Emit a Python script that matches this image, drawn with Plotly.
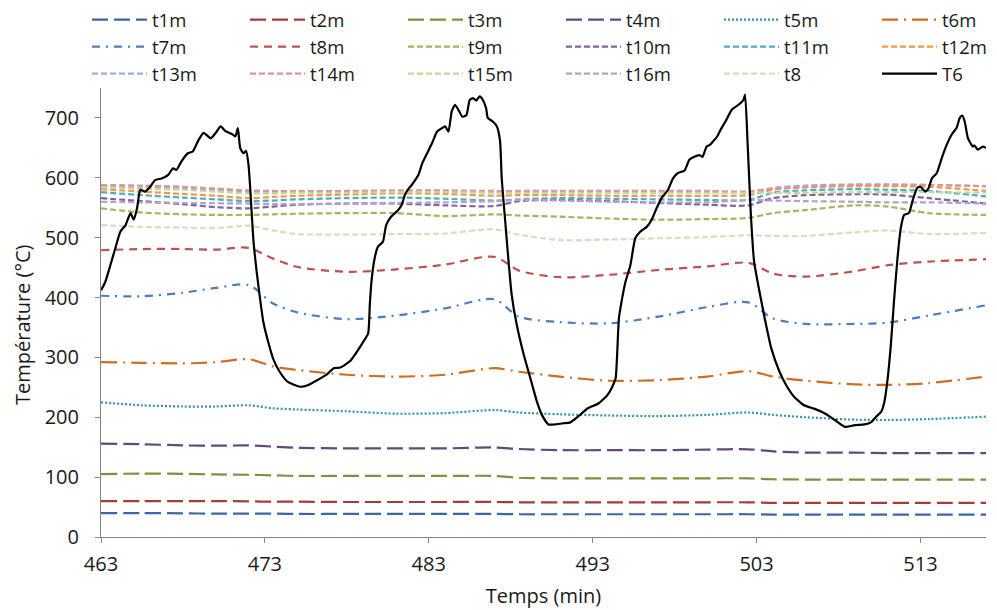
import plotly.graph_objects as go

# ---------------- data ----------------
time_grid = [463, 465.5, 468, 470, 472, 473.5, 475, 478, 481, 484, 487, 488.5, 491,
             494, 497, 500, 502.5, 504, 506, 509, 511, 513.5, 517]

t1m = [40, 40, 39.5, 39, 39, 39, 38.5, 38.5, 38.5, 38.5, 38.5, 38, 38, 38, 38, 38, 38, 37.5, 37.5, 37.5, 37.5, 37.5, 37.5]
t2m = [60, 60, 60, 60, 59.5, 59, 59, 58.5, 58.5, 58.5, 58.5, 58, 58, 58, 58, 58, 58, 57, 57, 57, 57, 57, 57]
t3m = [105, 106, 105.5, 104.5, 104, 103, 102, 102, 102, 102, 102, 99, 98, 98, 98, 98, 98, 96.5, 96, 96, 96, 96, 96]
t4m = [156, 155, 153, 152.5, 153, 151, 149, 148, 148, 148, 149.5, 147, 145, 145, 145, 146, 146.5, 143, 141, 141, 140, 140, 140]
t5m = [225, 220, 218, 218, 220, 215, 213, 210, 206, 207, 212, 208, 205, 203, 202, 204, 208, 204, 200, 196, 195.5, 197, 201]
t6m = [292, 291, 290, 292, 297, 285, 279, 271, 268, 271, 282, 276, 268, 261, 262, 268, 277, 268, 261, 255, 254, 257, 268]
t7m = [403, 402, 408, 416, 421, 390, 375, 364, 370, 382, 397, 368, 359, 357, 368, 384, 392, 365, 356, 356, 358, 370, 387]
t8m = [479, 481, 481, 480, 483, 465, 451, 443, 447, 455, 468, 445, 434, 438, 446, 452, 458, 440, 435, 444, 454, 460, 464]
t9m = [549, 542, 539, 538, 538, 539, 540, 541, 541, 536, 539, 537, 535, 532, 530, 531, 533, 541, 546, 554, 552, 541, 538]
t10m = [566, 561, 556, 551, 549, 552, 555, 557, 557, 554, 553, 561, 563, 561, 558, 555, 554, 566, 571, 572.5, 572, 566, 557]
t11m = [576, 571, 567, 564, 561, 562, 564, 566, 567, 565, 562, 564, 566, 565, 564, 563, 563, 575, 579, 581, 580, 578, 569]
t12m = [581, 577, 573, 570, 566, 568, 570, 572, 574, 573, 570, 571, 571, 570, 570, 570, 571, 580, 584, 586, 586, 585, 578]
t13m = [585, 584, 582, 580, 577, 577, 577, 577, 577, 577, 576, 576, 576, 576, 576, 576, 576, 583, 587, 589, 589, 588, 586]
t14m = [588, 587, 585, 582, 579, 578, 578, 578, 579, 579, 578, 578, 578, 578, 578, 578, 577, 582, 585, 588, 588, 588, 586]
t15m = [584, 582, 580, 577, 574, 574, 575, 575, 576, 576, 575, 575, 575, 575, 575, 575, 575, 575, 575, 576, 576, 576, 575]
t16m = [560, 559, 558, 557.5, 557, 556, 556, 557, 558, 559, 561, 563, 562, 560, 559, 559, 563, 562, 561, 560, 559, 559, 557]
t8 = [521, 518, 517, 516, 520, 512, 506, 505, 506, 507, 514, 505, 496, 497, 499, 501, 504, 503, 503, 509, 512, 506, 508]

T6_time = [463.0, 463.26, 463.57, 463.87, 464.18, 464.5, 464.8, 465.0, 465.2, 465.4, 465.7, 466.0, 466.3, 466.7,
           467.1, 467.4, 467.6, 467.9, 468.3, 468.6, 468.95, 469.26, 469.7, 470.0, 470.3, 470.6, 471.0, 471.2,
           471.35, 471.5, 471.7, 471.85, 472.0, 472.1, 472.3, 472.5, 472.7, 472.9, 473.2, 473.5, 473.9, 474.4,
           475.15, 475.66, 476.2, 476.8, 477.2, 477.6, 478.2, 478.6, 479.0, 479.3, 479.4, 479.5, 479.7, 479.9,
           480.2, 480.4, 480.7, 481.1, 481.35, 481.55, 481.75, 481.96, 482.37, 482.6, 482.9, 483.2, 483.5, 483.8,
           484.0, 484.2, 484.4, 484.6, 484.8, 485.05, 485.3, 485.5, 485.7, 485.9, 486.1, 486.3, 486.5, 486.6,
           486.9, 487.15, 487.35, 487.45, 487.65, 487.85, 488.06, 488.37, 488.8, 489.2, 489.6, 489.9, 490.3,
           490.7, 491.2, 491.6, 492.1, 492.7, 493.35, 493.9, 494.2, 494.4, 494.5, 494.6, 494.8, 495.0, 495.3,
           495.6, 495.9, 496.3, 496.6, 496.9, 497.2, 497.6, 497.9, 498.2, 498.6, 498.9, 499.2, 499.5, 499.7,
           499.95, 500.15, 500.35, 500.6, 500.8, 501.1, 501.5, 501.9, 502.2, 502.3, 502.45, 502.65, 502.85,
           503.1, 503.5, 503.9, 504.4, 504.8, 505.3, 505.9, 506.55, 507.2, 507.8, 508.4, 509.0, 509.6, 510.0,
           510.3, 510.6, 510.8, 511.0, 511.2, 511.4, 511.6, 511.8, 512.0, 512.3, 512.5, 512.8, 513.0, 513.3,
           513.5, 513.7, 514.0, 514.3, 514.6, 514.9, 515.2, 515.4, 515.55, 515.7, 515.9, 516.2, 516.3, 516.5,
           516.8, 517.0]
T6 = [412, 426, 454, 482, 510, 521, 541, 530, 549, 580, 577, 585, 596, 599,
      605, 616, 613, 627, 641, 644, 663, 675, 666, 675, 686, 678, 673, 669,
      683, 649, 641, 645, 622, 585, 495, 443, 399, 360, 326, 298, 276, 259,
      251, 254, 262, 272, 282, 283, 294, 309, 326, 340, 387, 426, 466, 485,
      493, 521, 535, 545, 555, 572, 581, 588, 605, 624, 641, 658, 677, 683,
      686, 677, 711, 722, 714, 702, 705, 730, 733, 729, 736, 730, 716, 700,
      694, 686, 661, 599, 532, 466, 404, 354, 304, 265, 226, 204, 188,
      188, 190, 191, 201, 215, 223, 237, 251, 265, 309, 365, 399, 426, 454,
      499, 510, 518, 530, 549, 566, 580, 599, 608, 612, 630, 635, 638, 635,
      652, 655, 661, 669, 680, 694, 714, 722, 730, 739, 660, 540, 460,
      421, 365, 315, 276, 254, 234, 220, 214, 206, 195, 184, 187, 188, 192,
      201, 209, 226, 265, 323, 399, 466, 516, 538, 541, 560, 583, 585, 577,
      583, 599, 608, 633, 655, 672, 683, 700, 704, 694, 666, 652, 654, 647,
      652, 650]

x_ticks = [463, 473, 483, 493, 503, 513]
y_ticks = [0, 100, 200, 300, 400, 500, 600, 700]

series = [
    ("t1m", t1m, "#3a66a6", "16px,6px"),
    ("t2m", t2m, "#a63b38", "16px,6px"),
    ("t3m", t3m, "#77953d", "16px,6px"),
    ("t4m", t4m, "#5f4a7d", "16px,6px"),
    ("t5m", t5m, "#3592ab", "2px,2px"),
    ("t6m", t6m, "#d06d1f", "16px,6px,2px,6px"),
    ("t7m", t7m, "#4a7ebf", "8px,6px,2px,6px"),
    ("t8m", t8m, "#c0504d", "8px,6px"),
    ("t9m", t9m, "#9bbb59", "6px,3px"),
    ("t10m", t10m, "#8064a2", "6px,3px"),
    ("t11m", t11m, "#4bacc6", "6px,3px"),
    ("t12m", t12m, "#f79646", "6px,3px"),
    ("t13m", t13m, "#95b3d7", "6px,3px"),
    ("t14m", t14m, "#d99694", "6px,3px"),
    ("t15m", t15m, "#c3d69b", "6px,3px"),
    ("t16m", t16m, "#b3a2c7", "6px,3px"),
    ("t8", t8, "#d3e0bd", "6px,3px"),
]

FONT = "Open Sans"
TXT = "#1a1a1a"
AX = "#868686"

fig = go.Figure()
for name, vals, col, dash in series:
    fig.add_trace(go.Scatter(
        x=time_grid, y=vals, name=name, mode="lines",
        line=dict(color=col, width=2.2, dash=dash, shape="spline", smoothing=0.8),
    ))
fig.add_trace(go.Scatter(
    x=T6_time, y=T6, name="T6", mode="lines",
    line=dict(color="black", width=2.2, shape="spline", smoothing=0.5),
))

L, R, T, B = 101, 11, 88, 73
W, H = 997, 610
pw = W - L - R
ph = H - T - B

fig.update_layout(
    width=W, height=H,
    margin=dict(l=L, r=R, t=T, b=B, autoexpand=False),
    paper_bgcolor="white", plot_bgcolor="white",
    font=dict(family=FONT, size=20, color=TXT),
    showlegend=True,
    legend=dict(
        orientation="h",
        x=(87 - L) / pw, xanchor="left",
        y=(H - B - 1) / ph, yanchor="top",
        entrywidth=88, entrywidthmode="pixels",
        itemwidth=55,
        font=dict(family=FONT, size=18.5, color=TXT),
        bgcolor="rgba(0,0,0,0)",
        traceorder="normal",
    ),
    xaxis=dict(
        range=[463, 517], tickmode="array", tickvals=x_ticks,
        ticktext=[str(v) for v in x_ticks],
        showgrid=False, zeroline=False,
        showline=True, linecolor=AX, linewidth=1,
        ticks="outside", ticklen=5, tickcolor=AX,
        tickfont=dict(family=FONT, size=20, color=TXT),
        ticklabelstandoff=4,
        title=dict(text="Temps (min)", font=dict(family=FONT, size=20, color=TXT), standoff=12),
    ),
    yaxis=dict(
        range=[0, 750], tickmode="array", tickvals=y_ticks,
        showgrid=False, zeroline=False,
        showline=True, linecolor=AX, linewidth=1,
        ticks="outside", ticklen=5, tickcolor=AX,
        tickfont=dict(family=FONT, size=20, color=TXT),
        ticklabelstandoff=12,
    ),
    annotations=[dict(
        text="Température (°C)", textangle=-90,
        xref="paper", yref="paper",
        x=(22 - L) / pw, y=(H - B - 325) / ph,
        xanchor="center", yanchor="middle", showarrow=False,
        font=dict(family=FONT, size=20, color=TXT),
    )],
)

fig.write_html("out.html", config={"displayModeBar": False},
               post_script="document.body.style.margin='0';")
